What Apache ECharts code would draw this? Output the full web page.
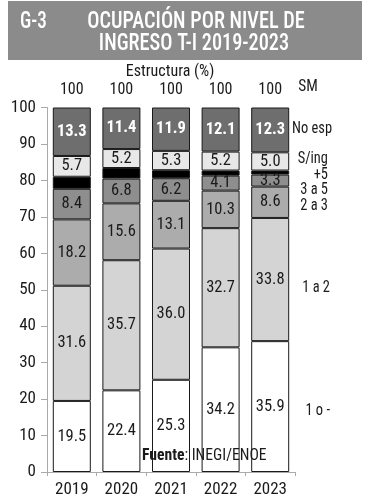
<!DOCTYPE html>
<html><head><meta charset="utf-8">
<script src="https://cdn.jsdelivr.net/npm/echarts@6/dist/echarts.min.js"></script>
<style>html,body{margin:0;padding:0;background:#fff}#c{width:368px;height:500px}</style>
</head><body><div id="c"></div>
<script>
var years = ['2019','2020','2021','2022','2023'];
var totals = ['100','100','100','100','100'];
var s1o = [19.5, 22.4, 25.3, 34.2, 35.9];
var s1a2 = [31.6, 35.7, 36.0, 32.7, 33.8];
var s2a3 = [18.2, 15.6, 13.1, 10.3, 8.6];
var s3a5 = [8.4, 6.8, 6.2, 4.1, 3.3];
var sMas5 = [3.3, 2.9, 2.2, 1.4, 1.1];
var sSing = [5.7, 5.2, 5.3, 5.2, 5.0];
var sNoEsp = [13.3, 11.4, 11.9, 12.1, 12.3];
var yTicks = [0,10,20,30,40,50,60,70,80,90,100];

var FF = "'Roboto Condensed','DejaVu Sans Condensed',sans-serif";
var chart = echarts.init(document.getElementById('c'), null, {renderer:'canvas'});

function mk(name, data, color, lbl) {
  return {
    name: name, type: 'bar', stack: 't', data: data, barWidth: 38,
    itemStyle: {color: color, borderColor: '#1a1a1a', borderWidth: 1},
    label: lbl ? Object.assign({show: true, position: 'inside', fontFamily: FF, fontSize: 16.5, color: '#1a1a1a',
      formatter: function(p){ return p.value.toFixed(1); }}, lbl) : {show: false},
    emphasis: {disabled: true}
  };
}
function side(txt, x, y, align) {
  return {type: 'text', x: x, y: y, scaleX: 0.85, z: 100,
    style: {text: txt, fill: '#1a1a1a', font: '17px ' + FF, align: align, verticalAlign: 'middle'}};
}

chart.setOption({
  animation: false,
  textStyle: {fontFamily: FF},
  grid: {left: 47, right: 73, top: 107.5, bottom: 28},
  xAxis: [{
    type: 'category', data: years,
    axisLine: {lineStyle: {color: '#aaa'}},
    axisTick: {show: true, lineStyle: {color: '#aaa'}, length: 4},
    axisLabel: {fontFamily: FF, fontSize: 17, color: '#1a1a1a', margin: 9, interval: 0}
  }, {
    type: 'category', data: totals, position: 'top',
    axisLine: {show: false}, axisTick: {show: false},
    axisLabel: {fontFamily: FF, fontSize: 16, color: '#1a1a1a', margin: 10, interval: 0}
  }],
  yAxis: {
    type: 'value', min: 0, max: 100, interval: 10,
    axisLine: {show: true, lineStyle: {color: '#aaa'}},
    axisTick: {show: true, length: 6, lineStyle: {color: '#aaa'}},
    splitLine: {show: false},
    axisLabel: {fontFamily: FF, fontSize: 17, color: '#1a1a1a', margin: 11,
      formatter: function(v){ return yTicks.indexOf(v) >= 0 ? String(v) : ''; }}
  },
  series: [
    mk('1 o -', s1o, '#ffffff', {}),
    mk('1 a 2', s1a2, '#d4d4d4', {}),
    mk('2 a 3', s2a3, '#acacac', {}),
    mk('3 a 5', s3a5, '#8e8e8e', {}),
    mk('+5', sMas5, '#000000', null),
    mk('S/ing', sSing, '#e8e8e8', {}),
    mk('No esp', sNoEsp, '#6e6e6e', {color: '#ffffff', fontWeight: 'bold'})
  ],
  graphic: [
    {type: 'rect', shape: {x: 8, y: 1, width: 354, height: 59}, style: {fill: '#8b8b8b'}},
    {type: 'text', x: 20, y: 22, scaleX: 0.8, style: {text: 'G-3', fill: '#fff', font: '500 24px ' + FF, verticalAlign: 'middle'}},
    {type: 'text', x: 196, y: 22, scaleX: 0.845, style: {text: 'OCUPACIÓN POR NIVEL DE', fill: '#fff', font: '500 24px ' + FF, align: 'center', verticalAlign: 'middle'}},
    {type: 'text', x: 194, y: 44, scaleX: 0.845, style: {text: 'INGRESO T-I 2019-2023', fill: '#fff', font: '500 24px ' + FF, align: 'center', verticalAlign: 'middle'}},
    {type: 'text', x: 170, y: 72, style: {text: 'Estructura (%)', fill: '#1a1a1a', font: '16px ' + FF, align: 'center', verticalAlign: 'middle'}},
    {type: 'text', x: 308, y: 87, scaleX: 0.9, style: {text: 'SM', fill: '#1a1a1a', font: '17px ' + FF, align: 'center', verticalAlign: 'middle'}},
    side('No esp', 292, 129, 'left'),
    side('S/ing', 328, 159, 'right'),
    side('+5', 328, 175, 'right'),
    side('3 a 5', 328, 190, 'right'),
    side('2 a 3', 328, 206, 'right'),
    side('1 a 2', 330, 288, 'right'),
    side('1 o -', 330, 411, 'right'),
    {type: 'text', x: 142, y: 456, z: 100, scaleX: 0.92, style: {
      text: '{b|Fuente}{r|: INEGI/ENOE}', verticalAlign: 'middle',
      rich: {b: {fontFamily: FF, fontSize: 17, fontWeight: 'bold', fill: '#1a1a1a', color: '#1a1a1a'},
             r: {fontFamily: FF, fontSize: 17, fill: '#1a1a1a', color: '#1a1a1a'}}
    }}
  ]
});
</script>
</body></html>
